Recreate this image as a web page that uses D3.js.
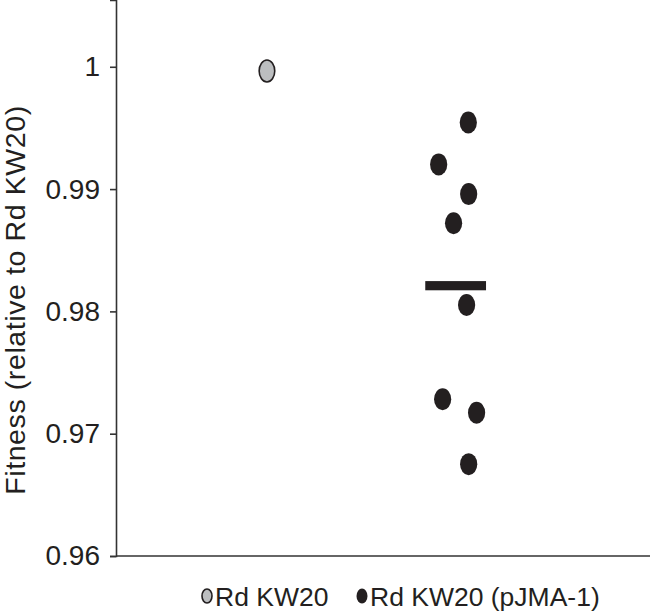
<!DOCTYPE html>
<html>
<head>
<meta charset="utf-8">
<script src="https://cdnjs.cloudflare.com/ajax/libs/d3/7.8.5/d3.min.js"></script>
<style>
  body { margin: 0; background: #fff; }
  text { font-family: "Liberation Sans", Arial, sans-serif; fill: #231f20; }
</style>
</head>
<body>
<script>
// strains (categories)
var strains = ["Rd KW20", "Rd KW20 (pJMA-1)"];
// fitness values
var wildType = [0.99965];
var plasmid = [0.99545, 0.99202, 0.98959, 0.98720, 0.98052, 0.97281, 0.97171, 0.96751];
// horizontal jitter of each point, in category units
var wildJitter = [0];
var plasmidJitter = [0.067, -0.09, 0.069, -0.011, 0.058, -0.069, 0.111, 0.069];
// y tick labels
var yTicks = [0.96, 0.97, 0.98, 0.99, 1];

var width = 650, height = 615;
var left = 116, bottom = 556;

var svg = d3.select("body").append("svg")
            .attr("width", width)
            .attr("height", height);

var x = d3.scaleLinear().domain([0.2, 3.03]).range([left, width]);
var y = d3.scaleLinear().domain([0.96, 1.00546]).range([bottom, 0]);

// y axis
var yAxis = d3.axisLeft(y)
              .tickValues(yTicks)
              .tickSize(6)
              .tickPadding(10)
              .tickFormat(function(d) { return +d.toFixed(2); });

var gy = svg.append("g")
            .attr("transform", "translate(" + left + ",0)")
            .call(yAxis);
gy.select(".domain").attr("stroke", "#333").attr("stroke-width", 1.6);
gy.selectAll(".tick line").attr("stroke", "#333").attr("stroke-width", 1.6);
gy.selectAll(".tick text")
  .attr("font-size", 28)
  .attr("font-family", "Liberation Sans, Arial, sans-serif")
  .attr("fill", "#231f20");

// x baseline (no ticks)
svg.append("line")
   .attr("x1", x.range()[0]).attr("x2", x.range()[1])
   .attr("y1", y(0.96)).attr("y2", y(0.96))
   .attr("stroke", "#333").attr("stroke-width", 1.6);

// y label
svg.append("text")
   .attr("transform", "translate(25,300) rotate(-90)")
   .attr("text-anchor", "middle")
   .attr("font-size", 28.5)
   .attr("letter-spacing", 0.6)
   .text("Fitness (relative to Rd KW20)");

// wild type point
svg.selectAll("ellipse.wt")
   .data(wildType)
   .enter().append("ellipse")
   .attr("class", "wt")
   .attr("cx", function(d, i) { return x(1 + wildJitter[i]); })
   .attr("cy", function(d) { return y(d); })
   .attr("rx", 7.8)
   .attr("ry", 11)
   .attr("fill", "#bcbec0")
   .attr("stroke", "#231f20")
   .attr("stroke-width", 1.6);

// plasmid points
svg.selectAll("ellipse.pl")
   .data(plasmid)
   .enter().append("ellipse")
   .attr("class", "pl")
   .attr("cx", function(d, i) { return x(2 + plasmidJitter[i]); })
   .attr("cy", function(d) { return y(d); })
   .attr("rx", 8.6)
   .attr("ry", 11)
   .attr("fill", "#231f20");

// mean bar
var m = d3.mean(plasmid);
svg.append("rect")
   .attr("x", x(2 - 0.161))
   .attr("width", x(2 + 0.161) - x(2 - 0.161))
   .attr("y", y(m) - 4.6)
   .attr("height", 9.2)
   .attr("fill", "#231f20");

// legend
var legendX = [207, 362];
var leg = svg.selectAll("g.legend")
             .data(strains)
             .enter().append("g")
             .attr("class", "legend")
             .attr("transform", function(d, i) { return "translate(" + legendX[i] + ",596)"; });

leg.append("ellipse")
   .attr("rx", function(d, i) { return i == 0 ? 5 : 5.5; })
   .attr("ry", function(d, i) { return i == 0 ? 7 : 7.5; })
   .attr("fill", function(d, i) { return i == 0 ? "#bcbec0" : "#231f20"; })
   .attr("stroke", "#231f20")
   .attr("stroke-width", function(d, i) { return i == 0 ? 1.6 : 0; });

leg.append("text")
   .attr("x", 8)
   .attr("y", 10)
   .attr("font-size", 26.5)
   .text(function(d) { return d; });
</script>
</body>
</html>
